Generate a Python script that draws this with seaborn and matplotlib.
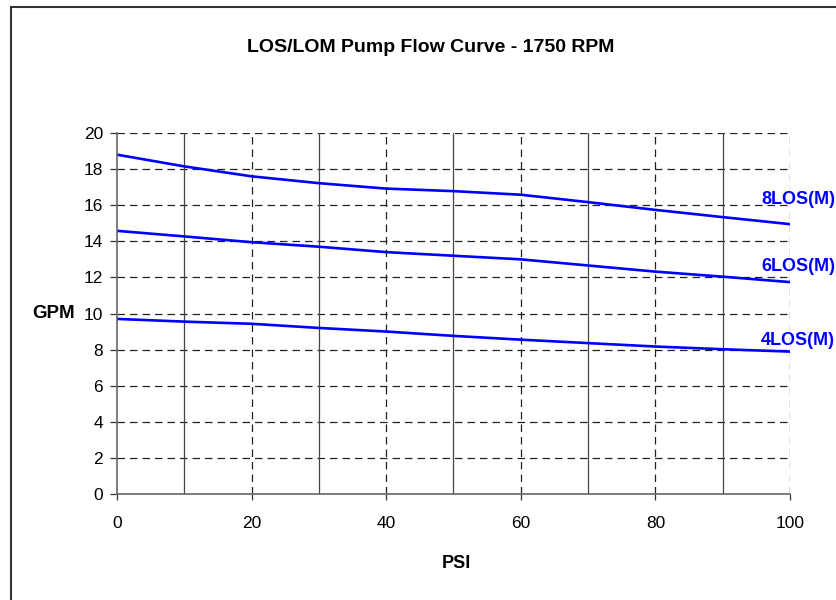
import matplotlib
matplotlib.use("Agg")
import matplotlib.pyplot as plt
import seaborn as sns
import pandas as pd
from matplotlib.patches import Rectangle
from matplotlib.ticker import MultipleLocator

sns.set_theme(style="white")
plt.rcParams['font.family'] = ['Liberation Sans', 'DejaVu Sans']

psi = [0, 10, 20, 30, 40, 50, 60, 70, 80, 90, 100]
gpm_8los = [18.8, 18.15, 17.6, 17.22, 16.92, 16.78, 16.58, 16.17, 15.74, 15.34, 14.95]
gpm_6los = [14.58, 14.27, 13.95, 13.70, 13.40, 13.2, 13.0, 12.66, 12.32, 12.04, 11.74]
gpm_4los = [9.7, 9.55, 9.43, 9.2, 9.0, 8.76, 8.55, 8.36, 8.17, 8.02, 7.89]
series_names = ["8LOS(M)", "6LOS(M)", "4LOS(M)"]
label_y = [16.3, 12.6, 8.5]

df = pd.DataFrame({
    "PSI": psi * 3,
    "GPM": gpm_8los + gpm_6los + gpm_4los,
    "series": [series_names[0]] * len(psi) + [series_names[1]] * len(psi) + [series_names[2]] * len(psi),
})

W, H = 837, 600
fig = plt.figure(figsize=(W / 100, H / 100), dpi=100)
fig.patch.set_facecolor("white")
ax = fig.add_axes([117 / W, 1 - 494 / H, (790 - 117) / W, (494 - 133) / H])

sns.lineplot(data=df, x="PSI", y="GPM", hue="series",
             palette=["#0000FF"] * 3, linewidth=1.9, legend=False, ax=ax)

ax.set_xlim(0, 100)
ax.set_ylim(0, 20)
ax.xaxis.set_major_locator(MultipleLocator(20))
ax.xaxis.set_minor_locator(MultipleLocator(10))
ax.yaxis.set_major_locator(MultipleLocator(2))

ax.grid(False)
for yv in range(2, 21, 2):
    ax.axhline(yv, color="#222222", lw=0.9, ls=(0, (6, 4)), zorder=0.5)
for xv in range(20, 101, 20):
    ax.axvline(xv, color="#222222", lw=0.9, ls=(0, (6, 4)), zorder=0.5)
for xv in range(10, 100, 20):
    ax.axvline(xv, color="#444444", lw=0.9, ls="-", zorder=0.5)

for s in ["top", "right"]:
    ax.spines[s].set_visible(False)
for s in ["left", "bottom"]:
    ax.spines[s].set_visible(True)
    ax.spines[s].set_color("#666666")
    ax.spines[s].set_linewidth(1.2)

ax.tick_params(axis="x", which="major", direction="out", length=4.5, width=0.9,
               color="#333333", pad=11, labelsize=12.5, labelcolor="black", bottom=True)
ax.tick_params(axis="x", which="minor", length=0)
ax.tick_params(axis="y", which="major", direction="out", length=5, width=0.9,
               color="#333333", pad=5, labelsize=12.5, labelcolor="black", left=True)

ax.set_xlabel("PSI", fontsize=13, fontweight="bold", color="black")
ax.xaxis.set_label_coords(0.505, -0.169)
ax.set_ylabel("GPM", fontsize=13.5, fontweight="bold", color="black", rotation=0,
              ha="center", va="center")
ax.yaxis.set_label_coords(-0.094, 0.5)

for name, ly in zip(series_names, label_y):
    ax.text(95.7, ly, name, color="#0000FF", fontsize=13, fontweight="bold",
            ha="left", va="center", clip_on=False)

fig.text(431 / W, 1 - 47 / H, "LOS/LOM Pump Flow Curve - 1750 RPM",
         ha="center", va="center", fontsize=14, fontweight="bold", color="black")

fig.patches.append(Rectangle((11 / W, -0.05), 1.2, 1 - 7 / H + 0.05,
                             transform=fig.transFigure, fill=False,
                             edgecolor="#333333", linewidth=1.5))

fig.savefig("out.png", dpi=100, facecolor="white")
